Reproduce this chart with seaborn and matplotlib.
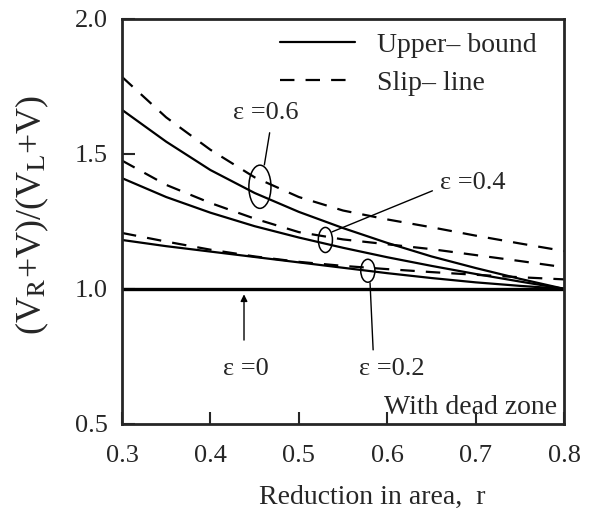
import numpy as np
import pandas as pd
import matplotlib
matplotlib.use('Agg')
import matplotlib.pyplot as plt
import seaborn as sns
from matplotlib.patches import Ellipse
from matplotlib.lines import Line2D

# values
r = [0.30, 0.35, 0.40, 0.45, 0.50, 0.55, 0.60, 0.65, 0.70, 0.75, 0.80]
upper_06 = [1.663, 1.545, 1.440, 1.355, 1.285, 1.225, 1.170, 1.120, 1.077, 1.037, 1.000]
upper_04 = [1.410, 1.340, 1.282, 1.232, 1.190, 1.152, 1.117, 1.085, 1.055, 1.027, 1.000]
upper_02 = [1.181, 1.158, 1.138, 1.118, 1.098, 1.078, 1.058, 1.040, 1.024, 1.011, 1.000]
slip_06 = [1.785, 1.635, 1.515, 1.413, 1.340, 1.290, 1.257, 1.228, 1.197, 1.168, 1.140]
slip_04 = [1.475, 1.385, 1.318, 1.260, 1.210, 1.183, 1.165, 1.147, 1.125, 1.103, 1.080]
slip_02 = [1.207, 1.175, 1.145, 1.120, 1.100, 1.085, 1.073, 1.062, 1.052, 1.043, 1.035]
zero_line = [1.0] * len(r)

sns.set_style('ticks')
plt.rcParams['font.family'] = ['Liberation Serif', 'DejaVu Serif']
plt.rcParams['mathtext.fontset'] = 'stix'

fig = plt.figure(figsize=(5.92, 5.22), dpi=100)
ax = fig.add_axes([0.206, 0.188, 0.747, 0.776])

dash = (0, (6.5, 5))
for vals in [upper_06, upper_04, upper_02]:
    sns.lineplot(x=r, y=vals, color='black', lw=1.6, ax=ax)
for vals in [slip_06, slip_04, slip_02]:
    sns.lineplot(x=r, y=vals, color='black', lw=1.6, ax=ax, linestyle=dash)
sns.lineplot(x=r, y=zero_line, color='black', lw=2.4, ax=ax)

ax.set_xlim(0.3, 0.8)
ax.set_ylim(0.5, 2.0)
ax.set_xticks([0.3, 0.4, 0.5, 0.6, 0.7, 0.8])
ax.set_yticks([0.5, 1.0, 1.5, 2.0])
ax.tick_params(direction='in', length=9, width=1.5, labelsize=19)
ax.tick_params(axis='x', pad=15)
ax.tick_params(axis='y', pad=10)
for s in ax.spines.values():
    s.set_linewidth(2)

ax.set_xlabel('Reduction in area,  r', fontsize=20)
ax.xaxis.set_label_coords(0.566, -0.15)
ax.set_ylabel(r'(V$_{\rm R}$+V)/(V$_{\rm L}$+V)', fontsize=26)
ax.yaxis.set_label_coords(-0.16, 0.516)

# annotations
ax.text(0.4256, 1.652, 'ε =0.6', fontsize=19, va='center', ha='left')
ax.plot([0.467, 0.461], [1.578, 1.459], color='black', lw=1)
ax.add_patch(Ellipse((0.456, 1.378), 0.025, 0.16, fill=False, lw=1.1, color='black'))

ax.text(0.66, 1.393, 'ε =0.4', fontsize=19, va='center', ha='left')
ax.plot([0.651, 0.5376], [1.363, 1.211], color='black', lw=1)
ax.add_patch(Ellipse((0.53, 1.181), 0.016, 0.093, fill=False, lw=1.1, color='black'))

ax.text(0.605, 0.704, 'ε =0.2', fontsize=19, va='center', ha='center')
ax.plot([0.584, 0.5805], [0.774, 1.022], color='black', lw=1)
ax.add_patch(Ellipse((0.578, 1.067), 0.016, 0.085, fill=False, lw=1.1, color='black'))

ax.text(0.44, 0.704, 'ε =0', fontsize=19, va='center', ha='center')
ax.annotate('', xy=(0.438, 0.99), xytext=(0.438, 0.800),
            arrowprops=dict(arrowstyle='-|>', color='black', lw=1, mutation_scale=10))

ax.text(0.792, 0.559, 'With dead zone', fontsize=20, va='center', ha='right')

handles = [Line2D([], [], color='black', lw=1.6),
           Line2D([], [], color='black', lw=1.6, linestyle=dash)]
ax.legend(handles, ['Upper– bound', 'Slip– line'], loc='upper right',
          bbox_to_anchor=(0.975, 1.008), frameon=False, fontsize=20,
          handlelength=2.7, handletextpad=0.8, labelspacing=0.45,
          borderaxespad=0.2)

fig.savefig('out.png', dpi=100)
